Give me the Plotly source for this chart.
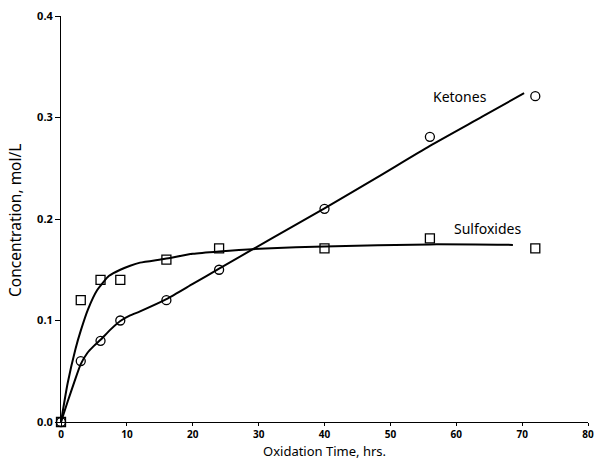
import plotly.graph_objects as go

# Measured data points
time_hrs = [0, 3, 6, 9, 16, 24, 40, 56, 72]
ketones = [0.0, 0.060, 0.080, 0.100, 0.120, 0.150, 0.210, 0.281, 0.321]
sulfoxides = [0.0, 0.120, 0.140, 0.140, 0.160, 0.171, 0.171, 0.181, 0.171]

# Fitted curves
ket_fit_t = [0, 1, 2, 3, 4, 5, 6, 7.5, 9, 10.5, 12, 16, 20, 24, 32, 40, 48, 56, 64, 70.3]
ket_fit_y = [0.0, 0.020, 0.039, 0.057, 0.068, 0.075, 0.081, 0.091, 0.0995, 0.105, 0.109,
             0.121, 0.136, 0.151, 0.181, 0.2105, 0.241, 0.272, 0.301, 0.324]
sul_fit_t = [0, 1, 2.2, 3, 4.1, 5.5, 7.3, 9, 10.5, 12, 15.8, 20, 24, 31, 40, 56, 68.6]
sul_fit_y = [0.0, 0.038, 0.072, 0.090, 0.111, 0.130, 0.144, 0.150, 0.154, 0.157,
             0.1608, 0.1657, 0.168, 0.171, 0.173, 0.175, 0.1745]

x_ticks = [0, 10, 20, 30, 40, 50, 60, 70, 80]
y_ticks = [0.0, 0.1, 0.2, 0.3, 0.4]

FONT = "Noto Sans"

fig = go.Figure()
fig.add_trace(go.Scatter(x=ket_fit_t, y=ket_fit_y, mode="lines",
                         line=dict(color="black", width=2, shape="spline", smoothing=0.6),
                         showlegend=False, cliponaxis=False))
fig.add_trace(go.Scatter(x=sul_fit_t, y=sul_fit_y, mode="lines",
                         line=dict(color="black", width=2, shape="spline", smoothing=0.6),
                         showlegend=False, cliponaxis=False))
fig.add_trace(go.Scatter(x=time_hrs, y=ketones, mode="markers",
                         marker=dict(symbol="circle-open", size=9, color="black",
                                     line=dict(width=1.3, color="black")),
                         showlegend=False, cliponaxis=False))
fig.add_trace(go.Scatter(x=time_hrs, y=sulfoxides, mode="markers",
                         marker=dict(symbol="square-open", size=9, color="black",
                                     line=dict(width=1.3, color="black")),
                         showlegend=False, cliponaxis=False))

fig.add_annotation(x=60.5, y=0.321, text="Ketones", showarrow=False,
                   font=dict(family=FONT, size=14, color="black"))
fig.add_annotation(x=64.8, y=0.191, text="Sulfoxides", showarrow=False,
                   font=dict(family=FONT, size=14, color="black"))

# Axis titles
fig.add_annotation(xref="paper", yref="paper", x=0.5, y=0, yanchor="middle", yshift=-28.5,
                   borderpad=0, text="Oxidation Time, hrs.", showarrow=False,
                   font=dict(family=FONT, size=13, color="black"))
fig.add_annotation(xref="paper", yref="paper", x=0, y=0.5, xanchor="center", xshift=-46,
                   yshift=-2, textangle=-90, borderpad=0,
                   text="Concentration, mol/L", showarrow=False,
                   font=dict(family=FONT, size=15.5, color="black"))

fig.update_layout(
    width=596, height=459,
    margin=dict(l=61, r=8, t=16, b=37),
    paper_bgcolor="white", plot_bgcolor="white",
    font=dict(family=FONT, color="black"),
)
fig.update_xaxes(
    range=[0, 80], tickvals=x_ticks, ticktext=[str(v) for v in x_ticks],
    showgrid=False, zeroline=False, showline=True, linecolor="black", linewidth=1,
    ticks="outside", ticklen=3, tickcolor="black", tickwidth=1,
    tickfont=dict(family=FONT, size=10, color="black", weight="bold"),
    automargin=False,
)
fig.update_yaxes(
    range=[0, 0.4], tickvals=y_ticks, ticktext=[f"{v:.1f}" for v in y_ticks],
    showgrid=False, zeroline=False, showline=True, linecolor="black", linewidth=1,
    ticks="outside", ticklen=5, tickcolor="black", tickwidth=1,
    tickfont=dict(family=FONT, size=11, color="black", weight="bold"),
    automargin=False,
)

fig.write_html("out.html")
